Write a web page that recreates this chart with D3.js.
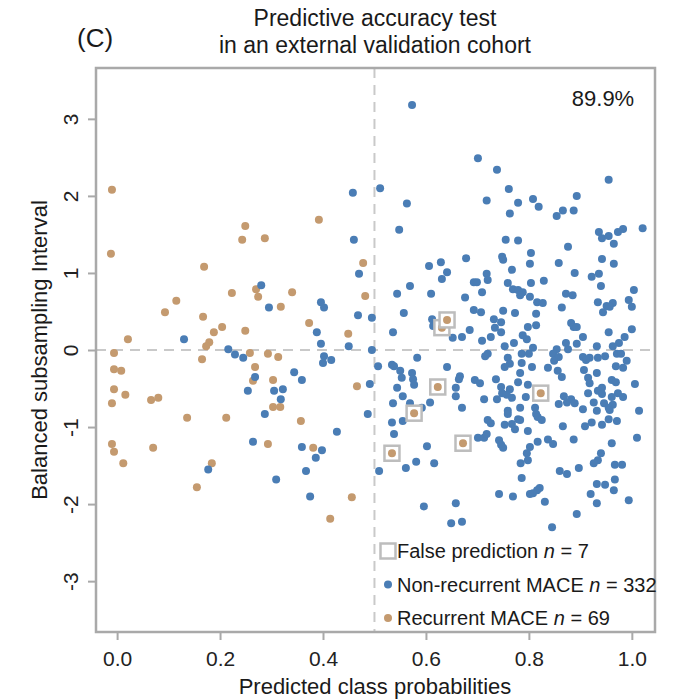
<!DOCTYPE html>
<html>
<head>
<meta charset="utf-8">
<script src="https://cdn.jsdelivr.net/npm/d3@7"></script>
<style>
  body { margin: 0; background: #fff; }
  svg text { font-family: "Liberation Sans", Arial, sans-serif; fill: #1a1a1a; }
</style>
</head>
<body>
<div id="chart"></div>
<script>
// values: [predicted probability, subsampling interval]
var recurrent = [
  [-0.010, 2.08], [-0.012, 1.25], [0.249, 1.61], [0.392, 1.69], [0.287, 1.45], [0.243, 1.43],
  [0.478, 1.13], [0.169, 1.08], [0.223, 0.74], [0.115, 0.64], [0.093, 0.49], [0.167, 0.43],
  [0.204, 0.30], [0.188, 0.23], [0.179, 0.10], [0.173, 0.05], [0.021, 0.14], [0.165, -0.12],
  [-0.006, -0.04], [-0.006, -0.25], [0.008, -0.27], [-0.006, -0.51], [0.270, 0.79], [0.274, 0.69],
  [0.340, 0.75], [0.318, 0.56], [0.482, 0.70], [0.249, 0.25], [0.373, 0.35], [0.449, 0.21],
  [0.258, -0.04], [0.293, -0.05], [0.313, -0.09], [0.268, -0.22], [0.264, -0.40], [0.303, -0.39],
  [0.466, -0.47], [0.016, -0.58], [-0.010, -0.69], [0.066, -0.65], [0.080, -0.62], [0.136, -0.88],
  [0.212, -0.88], [-0.010, -1.22], [-0.006, -1.32], [0.070, -1.27], [0.012, -1.47], [0.184, -1.47],
  [0.155, -1.78], [0.303, -0.74], [0.317, -0.74], [0.357, -0.92], [0.293, -1.22], [0.381, -1.27],
  [0.456, -1.91], [0.414, -2.19]
];

// recurrent cases predicted as non-recurrent (boxed)
var falsePrediction = [
  [0.631, 0.29], [0.641, 0.39], [0.623, -0.48], [0.577, -0.82], [0.534, -1.34], [0.672, -1.21], [0.823, -0.56]
];

var nonRecurrent = [
  [0.458, 2.04], [0.460, 1.43], [0.573, 3.18], [0.701, 2.49], [0.738, 2.34], [0.511, 2.10], [0.761, 2.09],
  [0.563, 1.90], [0.718, 1.94], [0.763, 1.77], [0.548, 1.56], [0.755, 1.43], [0.779, 1.91], [0.808, 1.96],
  [0.819, 1.86], [0.893, 2.00], [0.955, 2.21], [0.854, 1.74], [0.866, 1.81], [0.887, 1.81], [0.936, 1.53],
  [0.942, 1.45], [0.955, 1.48], [0.973, 1.53], [0.983, 1.57], [1.021, 1.58], [0.779, 1.42],
  [0.130, 0.14], [0.216, 0.01], [0.229, -0.06], [0.470, 0.99], [0.280, 0.84], [0.295, 0.55], [0.396, 0.62],
  [0.402, 0.55], [0.468, 0.45], [0.495, 0.42], [0.388, 0.23], [0.396, 0.08], [0.450, 0.05], [0.495, 0.00],
  [0.245, -0.10], [0.402, -0.08], [0.416, -0.13], [0.400, -0.17], [0.268, -0.35], [0.344, -0.29],
  [0.359, -0.39], [0.322, -0.51], [0.305, -0.53], [0.254, -0.53], [0.491, -0.44],
  [0.177, -1.55], [0.318, -0.64], [0.287, -0.83], [0.487, -0.83], [0.427, -1.06], [0.264, -1.19],
  [0.359, -1.26], [0.398, -1.30], [0.386, -1.40], [0.367, -1.57], [0.309, -1.68], [0.375, -1.90],
  [0.748, 1.21], [0.750, 1.17], [0.678, 1.19], [0.629, 1.14], [0.606, 1.09], [0.641, 1.01], [0.631, 0.92],
  [0.767, 1.04], [0.718, 0.99], [0.720, 0.91], [0.693, 0.88], [0.699, 0.88], [0.759, 0.87], [0.769, 0.79],
  [0.569, 0.83], [0.544, 0.73], [0.610, 0.73], [0.709, 0.75], [0.676, 0.68], [0.693, 0.52], [0.707, 0.49],
  [0.750, 0.51], [0.773, 0.48], [0.557, 0.48], [0.732, 0.40], [0.746, 0.36], [0.734, 0.29], [0.746, 0.23],
  [0.685, 0.26], [0.726, 0.17], [0.709, 0.12], [0.670, 0.17], [0.652, 0.16], [0.536, 0.23], [0.612, 0.40],
  [0.614, 0.31], [0.753, 0.05], [0.771, 0.09], [0.643, 0.39], [0.720, -0.05], [0.715, -0.08], [0.583, -0.10],
  [0.534, -0.19], [0.538, -0.21], [0.507, -0.21], [0.759, -0.10], [0.763, -0.18], [0.753, -0.22],
  [0.641, -0.22], [0.550, -0.27], [0.573, -0.30], [0.575, -0.38], [0.553, -0.36], [0.666, -0.34],
  [0.664, -0.38], [0.695, -0.39], [0.705, -0.43], [0.736, -0.38], [0.577, -0.45], [0.544, -0.49],
  [0.658, -0.49], [0.746, -0.48], [0.763, -0.51],
  [0.965, 1.38], [0.876, 1.34], [0.804, 1.26], [0.802, 1.12], [0.858, 1.13], [0.942, 1.18], [0.965, 1.12],
  [0.889, 1.00], [0.922, 0.95], [0.936, 0.99], [0.940, 0.83], [0.804, 0.87], [0.829, 0.90], [0.779, 0.78],
  [0.788, 0.75], [0.783, 0.71], [0.802, 0.69], [0.816, 0.62], [0.827, 0.61], [0.872, 0.73], [0.885, 0.71],
  [0.864, 0.55], [0.934, 0.62], [0.951, 0.57], [0.963, 0.61], [0.957, 0.56], [0.944, 0.49], [1.004, 0.78],
  [0.994, 0.65], [1.000, 0.56], [0.814, 0.47], [0.798, 0.30], [0.814, 0.32], [0.882, 0.35], [0.887, 0.30],
  [0.893, 0.30], [0.955, 0.23], [1.000, 0.27], [0.788, 0.19], [0.796, 0.14], [0.905, 0.17], [0.986, 0.17],
  [0.975, 0.09], [0.963, 0.05], [0.872, 0.09], [0.893, 0.08], [0.932, 0.05], [0.808, 0.03], [0.854, 0.01],
  [0.876, 0.01], [0.786, -0.05], [0.800, -0.05], [0.847, -0.05], [0.858, -0.09], [0.905, -0.09],
  [0.918, -0.10], [0.934, -0.10], [0.948, -0.08], [0.971, -0.05], [0.979, -0.05], [0.849, -0.14],
  [0.911, -0.13], [0.990, -0.14], [0.786, -0.17], [0.806, -0.22], [0.837, -0.23], [0.856, -0.27],
  [0.969, -0.21], [0.983, -0.23], [0.907, -0.26], [0.932, -0.30], [0.864, -0.35], [0.783, -0.30],
  [0.915, -0.36], [0.918, -0.43], [0.961, -0.39], [0.969, -0.42], [1.006, -0.44], [0.942, -0.49],
  [0.798, -0.45], [0.779, -0.42],
  [0.555, -0.60], [0.658, -0.60], [0.713, -0.64], [0.738, -0.64], [0.748, -0.56], [0.757, -0.58],
  [0.767, -0.62], [0.536, -0.69], [0.569, -0.69], [0.608, -0.68], [0.592, -0.75], [0.670, -0.75],
  [0.759, -0.79], [0.759, -0.83], [0.720, -0.91], [0.726, -0.95], [0.753, -0.97], [0.767, -0.96],
  [0.534, -0.94], [0.555, -0.92], [0.538, -1.09], [0.701, -1.14], [0.713, -1.14], [0.718, -1.09],
  [0.742, -1.17], [0.746, -1.23], [0.750, -1.27], [0.602, -1.25], [0.540, -1.39], [0.509, -1.57],
  [0.561, -1.53], [0.581, -1.45], [0.616, -1.47], [0.742, -1.87], [0.769, -1.90], [0.596, -2.03],
  [0.658, -1.99], [0.649, -2.25], [0.670, -2.23],
  [0.794, -0.61], [0.868, -0.60], [0.882, -0.64], [0.889, -0.69], [0.858, -0.70], [0.874, -0.68],
  [0.915, -0.56], [0.934, -0.53], [0.942, -0.57], [0.973, -0.56], [0.961, -0.61], [0.983, -0.61],
  [0.926, -0.68], [0.946, -0.69], [0.963, -0.71], [0.932, -0.79], [0.955, -0.75], [0.957, -0.78],
  [0.905, -0.77], [1.014, -0.79], [0.812, -0.75], [0.814, -0.83], [0.817, -0.87], [0.825, -0.91],
  [0.783, -0.75], [0.779, -0.90], [0.783, -0.91], [0.773, -1.03], [0.798, -1.05], [0.866, -0.99],
  [0.909, -0.99], [0.922, -0.94], [0.942, -0.97], [0.955, -0.90], [0.971, -0.92], [0.817, -1.19],
  [0.837, -1.16], [0.847, -1.22], [0.887, -1.16], [0.961, -1.21], [1.010, -1.14], [0.802, -1.26],
  [0.796, -1.34], [0.798, -1.43], [0.784, -1.47], [0.940, -1.34], [0.934, -1.43], [0.926, -1.47],
  [0.860, -1.57], [0.874, -1.61], [0.897, -1.53], [0.967, -1.49], [0.981, -1.49], [0.786, -1.66],
  [0.967, -1.68], [0.932, -1.74], [0.948, -1.75], [0.965, -1.82], [0.821, -1.79], [0.816, -1.82],
  [0.808, -1.86], [0.802, -1.87], [0.920, -1.87], [0.932, -1.99], [0.831, -1.97], [0.994, -1.95],
  [0.893, -2.13], [0.845, -2.30]
];

var xTicks = [0, 0.2, 0.4, 0.6, 0.8, 1.0];
var yTicks = [-3, -2, -1, 0, 1, 2, 3];
var legendLabels = [
  {name: "False prediction", n: 7},
  {name: "Non-recurrent MACE", n: 332},
  {name: "Recurrent MACE", n: 69}
];
var accuracy = "89.9%";

var blue = "#4a7db5", brown = "#c49a6f", frameGray = "#a9a9a9", dashGray = "#c9c9c9";

var svg_w = 678, svg_h = 699;
var plotL = 96, plotR = 655, plotT = 68, plotB = 632;

var svg = d3.select("#chart").append("svg")
    .attr("width", svg_w)
    .attr("height", svg_h);

var x = d3.scaleLinear().domain([-0.041, 1.045]).range([plotL, plotR]);
var y = d3.scaleLinear().domain([-3.66, 3.66]).range([plotB, plotT]);

// reference lines
svg.append("line")
    .attr("x1", x(0.5)).attr("x2", x(0.5))
    .attr("y1", plotT).attr("y2", plotB)
    .style("stroke", dashGray).style("stroke-width", 2)
    .style("stroke-dasharray", "10,7");
svg.append("line")
    .attr("x1", plotL).attr("x2", plotR)
    .attr("y1", y(0)).attr("y2", y(0))
    .style("stroke", dashGray).style("stroke-width", 2)
    .style("stroke-dasharray", "10,7");

// points
var r = 4;
svg.append("g").selectAll("circle")
    .data(recurrent)
    .enter()
    .append("circle")
    .attr("cx", function(d){ return x(d[0]); })
    .attr("cy", function(d){ return y(d[1]); })
    .attr("r", r)
    .style("fill", brown);

svg.append("g").selectAll("circle")
    .data(nonRecurrent)
    .enter()
    .append("circle")
    .attr("cx", function(d){ return x(d[0]); })
    .attr("cy", function(d){ return y(d[1]); })
    .attr("r", r)
    .style("fill", blue);

var fp = svg.append("g").selectAll("g")
    .data(falsePrediction)
    .enter()
    .append("g")
    .attr("transform", function(d){ return "translate(" + x(d[0]) + "," + y(d[1]) + ")"; });
fp.append("rect")
    .attr("x", -7.5).attr("y", -7.5)
    .attr("width", 15).attr("height", 15)
    .style("fill", "#fff")
    .style("stroke", "#bdbdbd")
    .style("stroke-width", 2.5);
fp.append("circle")
    .attr("r", r)
    .style("fill", brown);

// frame
svg.append("rect")
    .attr("x", plotL).attr("y", plotT)
    .attr("width", plotR - plotL).attr("height", plotB - plotT)
    .style("fill", "none")
    .style("stroke", frameGray)
    .style("stroke-width", 2.5);

// axes
var xAxis = svg.append("g")
    .attr("transform", "translate(0," + (plotB + 1) + ")")
    .call(d3.axisBottom(x).tickValues(xTicks).tickSize(7).tickPadding(11)
        .tickFormat(d3.format(".1f")));
var yAxis = svg.append("g")
    .attr("transform", "translate(" + (plotL - 1) + ",0)")
    .call(d3.axisLeft(y).tickValues(yTicks).tickSize(7)
        .tickFormat(function(d){ return d < 0 ? "-" + Math.abs(d) : d; }));

[xAxis, yAxis].forEach(function(a){
    a.select(".domain").remove();
    a.selectAll(".tick line").style("stroke", frameGray).style("stroke-width", 2);
    a.selectAll(".tick text").style("font-size", "21px").style("fill", "#222");
});
yAxis.selectAll(".tick text")
    .attr("x", null).attr("dy", null)
    .attr("text-anchor", "middle")
    .attr("transform", "translate(-24,0) rotate(-90)")
    .attr("y", 7);

// titles
svg.append("text")
    .attr("x", 375).attr("y", 26)
    .attr("text-anchor", "middle")
    .style("font-size", "23px")
    .text("Predictive accuracy test");
svg.append("text")
    .attr("x", 375).attr("y", 53)
    .attr("text-anchor", "middle")
    .style("font-size", "23px")
    .text("in an external validation cohort");
svg.append("text")
    .attr("x", 77).attr("y", 47)
    .style("font-size", "26px")
    .text("(C)");
svg.append("text")
    .attr("x", 603).attr("y", 106)
    .attr("text-anchor", "middle")
    .style("font-size", "22px")
    .text(accuracy);

svg.append("text")
    .attr("x", 375).attr("y", 694)
    .attr("text-anchor", "middle")
    .style("font-size", "22px")
    .text("Predicted class probabilities");
svg.append("text")
    .attr("transform", "translate(47," + y(0) + ") rotate(-90)")
    .attr("text-anchor", "middle")
    .style("font-size", "22px")
    .text("Balanced subsampling Interval");

// legend
var legend = svg.append("g").attr("transform", "translate(388,551)");
var rows = legend.selectAll("g")
    .data(legendLabels)
    .enter()
    .append("g")
    .attr("transform", function(d, i){ return "translate(0," + (i * 33.5) + ")"; });
rows.each(function(d, i){
    var g = d3.select(this);
    if (i == 0) {
        g.append("rect")
            .attr("x", -7.5).attr("y", -7.5).attr("width", 15).attr("height", 15)
            .style("fill", "#fff").style("stroke", "#bdbdbd").style("stroke-width", 2.5);
    } else {
        g.append("circle").attr("r", r).style("fill", i == 1 ? blue : brown);
    }
    var t = g.append("text").attr("x", 9).attr("y", 7).style("font-size", "20px");
    t.append("tspan").text(d.name + " ");
    t.append("tspan").style("font-style", "italic").text("n");
    t.append("tspan").text(" = " + d.n);
});
</script>
</body>
</html>
